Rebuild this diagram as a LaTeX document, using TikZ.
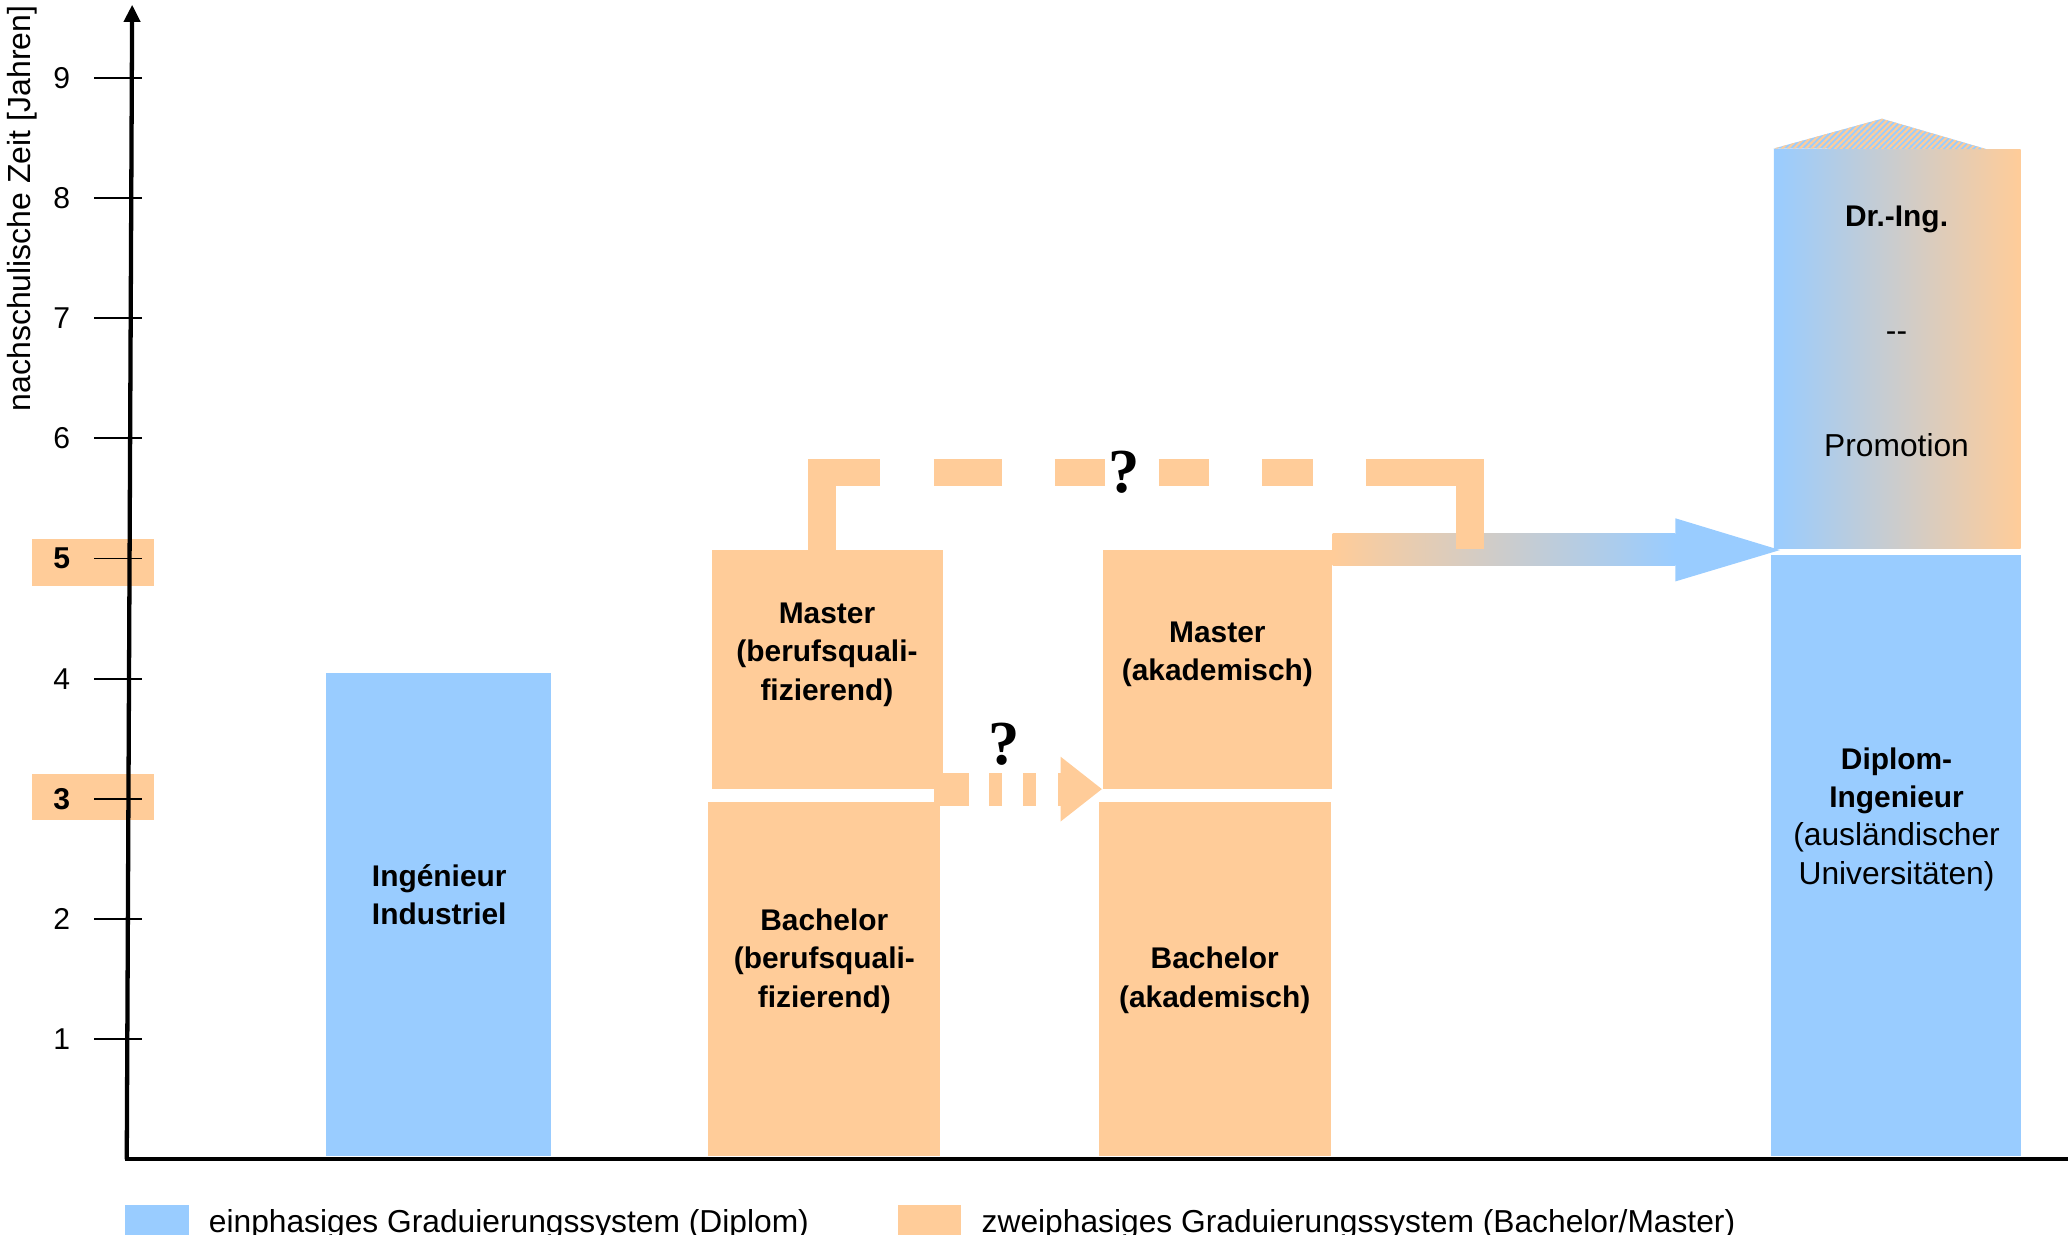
\documentclass[tikz,border=0pt]{standalone}
\usepackage{fontspec}
\setmainfont{Liberation Sans}
\newfontfamily\qmarkfont{Liberation Serif}
\usetikzlibrary{arrows.meta, positioning, patterns.meta}
\definecolor{diplomblue}{RGB}{153, 204, 255}
\definecolor{bolognaorange}{RGB}{255, 204, 153}
\newcommand{\boldline}[1]{{\fontsize{12.9}{16.5}\selectfont\bfseries #1}}

\begin{document}
\begin{tikzpicture}[
    x=1.822cm, y=1.822cm,
    onephase/.style={rectangle, inner sep=0pt, fill=diplomblue},
    twophase/.style={rectangle, inner sep=0pt, fill=bolognaorange},
    boxtext/.style={align=center, font=\fontsize{12.9}{16.5}\selectfont\bfseries},
    plaintext/.style={align=center, font=\fontsize{13.7}{16.5}\selectfont},
    yearlabel/.style={font=\fontsize{13}{16}\selectfont},
    qmark/.style={font=\qmarkfont\bfseries\fontsize{27}{30}\selectfont},
    dashlink/.style={draw=bolognaorange, line width=0.42cm, dash pattern=on 2.05cm off 0.82cm on 1.03cm off 0.80cm on 0.77cm off 0.81cm on 0.77cm off 0.80cm on 0.77cm off 0.80cm on 3cm},
    dasharrow/.style={draw=bolognaorange, line width=0.5cm, dash pattern=on 0.53cm off 0.31cm on 0.19cm off 0.33cm on 0.2cm off 0.33cm on 1cm, -{Triangle[length=0.63cm, width=0.94cm]}}
]

\useasboundingbox (-1.065,-0.626) rectangle (16.147,9.649);

% Year scale
\fill [bolognaorange] (-0.80,4.775) rectangle (0.22,5.16);
\fill [bolognaorange] (-0.80,2.82) rectangle (0.22,3.205);
\foreach \k in {1,...,9}
    \draw [line width=0.8pt] (-0.28,\k) -- (0.12,\k);
\foreach \k in {1,2,4,6,7,8,9}
    \node (year\k) [yearlabel] at (-0.55,\k) {\k};
\node (year3) [yearlabel, font=\fontsize{13}{16}\selectfont\bfseries] at (-0.55,3) {3};
\node (year5) [yearlabel, font=\fontsize{13}{16}\selectfont\bfseries] at (-0.55,5) {5};
\node (time_label) [font=\fontsize{13.8}{16.5}\selectfont, rotate=90, anchor=base, inner sep=0pt] at (-0.812,7.914) {nachschulische Zeit [Jahren]};

% Axes
\draw [line width=0.065cm, -{Triangle[length=0.26cm, width=0.24cm]}] (-0.01,0) -- (0.035,9.61);
\draw [line width=0.065cm] (-0.022,0) -- (16.3,0);

% Degree blocks
\node (ing_box) [onephase, minimum width=3.42cm, minimum height=7.32cm] at (2.586,2.04) {};
\node (bbq_box) [twophase, minimum width=3.52cm, minimum height=5.366cm] at (5.796,1.5025) {};
\node (mbq_box) [twophase, minimum width=3.50cm, minimum height=3.618cm] at (5.8235,4.078) {};
\node (bak_box) [twophase, minimum width=3.52cm, minimum height=5.366cm] at (9.045,1.5025) {};
\node (mak_box) [twophase, minimum width=3.48cm, minimum height=3.618cm] at (9.067,4.078) {};
\node (dipl_box) [onephase, minimum width=3.78cm, minimum height=9.104cm] at (14.7145,2.5285) {};
\node (promo_box) [rectangle, inner sep=0pt, left color=diplomblue, right color=bolognaorange, minimum width=3.74cm, minimum height=6.06cm] at (14.7255,6.745) {};
\path [fill=diplomblue, postaction={pattern={Lines[angle=45, distance=1.8pt, line width=0.9pt]}, pattern color=bolognaorange}] (promo_box.north west) -- (14.599,8.661) -- (15.467,8.408) -- cycle;

\node (ing_text) [boxtext] at (2.591,2.20) {Ingénieur\\Industriel};
\node (bbq_text) [boxtext] at (5.796,1.65) {Bachelor\\(berufsquali-\\fizierend)};
\node (mbq_text) [boxtext] at (5.818,4.20) {Master\\(berufsquali-\\fizierend)};
\node (bak_text) [boxtext] at (9.045,1.49) {Bachelor\\(akademisch)};
\node (mak_text) [boxtext] at (9.067,4.20) {Master\\(akademisch)};
\node (dipl_text) [plaintext] at (14.72,2.83) {\boldline{Diplom-}\\\boldline{Ingenieur}\\(ausländischer\\Universitäten)};
\node (promo_text) [plaintext] at (14.72,6.89) {\boldline{Dr.-Ing.}\\[33pt]-{}-\\[33pt]Promotion};

% Transitions
\shade [left color=bolognaorange, right color=diplomblue] ([yshift=0.24cm]mak_box.north east) rectangle (12.88,4.94);
\coordinate (grad_tip) at (13.75,5.071);
\fill [diplomblue] (12.88,5.335) -- (grad_tip) -- (12.88,4.81) -- cycle;

\coordinate (link_end) at (11.169,5.082);
\draw [dashlink] ([xshift=-0.09cm]mbq_box.north) -- ++(0,0.642) -| (link_end);
\node (q_top) [qmark] at (8.293,5.719) {?};

\draw [dasharrow] ([xshift=-0.15cm]mbq_box.south east) -- (mak_box.south west);
\node (q_low) [qmark] at (7.294,3.458) {?};

% Legend
\fill [diplomblue] (-0.022,-0.384) rectangle (0.505,-0.75);
\node (legend_one) [plaintext, anchor=base west, inner sep=0pt] at (0.67,-0.609) {einphasiges Graduierungssystem (Diplom)};
\fill [bolognaorange] (6.41,-0.384) rectangle (6.937,-0.75);
\node (legend_two) [plaintext, anchor=base west, inner sep=0pt] at (7.102,-0.609) {zweiphasiges Graduierungssystem (Bachelor/Master)};

\end{tikzpicture}
\end{document}
